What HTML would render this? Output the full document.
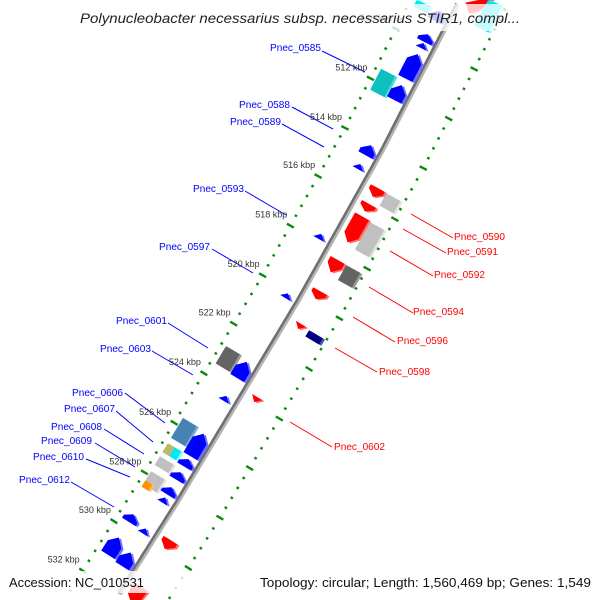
<!DOCTYPE html>
<html><head><meta charset="utf-8"><style>
html,body{margin:0;padding:0;background:#fff;width:600px;height:600px;overflow:hidden;}
svg{display:block;font-family:"Liberation Sans",sans-serif;overflow:hidden;}
</style></head><body>
<svg id="map" width="600" height="600" viewBox="0 0 600 600" xmlns="http://www.w3.org/2000/svg">
<g id="rings"></g>
<g id="backbone"></g>
<g id="features"></g>
<g id="labels"></g>
<g id="ticklabels"></g>
<rect x="0" y="4" width="600" height="27" fill="#fff" fill-opacity="0.78"/>
<text x="300" y="23" text-anchor="middle" font-style="italic" font-size="13.5" fill="#222" textLength="440" lengthAdjust="spacingAndGlyphs">Polynucleobacter necessarius subsp. necessarius STIR1, compl...</text>
<rect x="0" y="571" width="600" height="22" fill="#fff" fill-opacity="0.8"/>
<text x="9" y="587" font-size="12.5" fill="#111" textLength="135" lengthAdjust="spacingAndGlyphs">Accession: NC_010531</text>
<text x="260" y="587" font-size="12.5" fill="#111" textLength="331" lengthAdjust="spacingAndGlyphs">Topology: circular; Length: 1,560,469 bp; Genes: 1,549</text>
</svg>
<script>
// ---- data ----
const tickKbp = [510,512,514,516,518,520,522,524,526,528,530,532];
const tickLabels = ["510 kbp","512 kbp","514 kbp","516 kbp","518 kbp","520 kbp","522 kbp","524 kbp","526 kbp","528 kbp","530 kbp","532 kbp"];
const featStart = [508.7,508.7,509.65,510.0,510.45,511.52,511.7,514.14,514.9,517.72,520.12,522.8,522.9,524.27,525.7,525.8,526.72,526.72,527.25,526.82,527.35,527.85,528.25,527.96,528.38,529.45,529.63,530.38,530.6,
 507.0,507.5,515.34,515.35,515.98,516.48,516.52,518.24,518.25,519.5,520.81,520.85,523.76,529.52,531.4];
const featEnd = [509.1,509.0,509.95,510.2,511.43,512.37,512.3,514.54,515.1,517.92,520.32,523.5,523.55,524.47,526.5,526.7,527.08,527.08,527.6,527.12,527.65,528.4,528.5,528.26,528.58,529.75,529.83,531.08,531.15,
 508.3,508.6,515.7,515.85,516.28,517.53,517.62,518.74,518.85,519.82,521.01,521.1,523.96,529.88,532.1];
const featRow = ["LI","LO","LI","LI","LI","LO","LI","LI","LI","LI","LI","LO","LI","LI","LO","LI","LOa","LOb","LO","LI","LI","LO","LOa","LI","LI","LO","LI","LO","LI",
 "RI","RO","RI","RO","RI","RI","RO","RI","RO","RI","RI","RO","RI","RI","RI"];
const featColor = ["blue","cyan","blue","blue","blue","teal","blue","blue","blue","blue","blue","dgray","blue","blue","steel","blue","khaki","cyan","lgray","blue","blue","lgray","orange","blue","blue","blue","blue","blue","blue",
 "red","cyan","red","lgray","red","red","lgray","red","dgray","red","red","navy","red","red","red"];
const featType = ["arrowL","box","arrowL","triL","arrowL","box","arrowL","arrowL","triL","triL","triL","box","arrowL","triL","box","arrowL","box","box","box","arrowL","arrowL","box","box","arrowL","triL","arrowL","triL","arrowL","arrowL",
 "arrowR","box","arrowR","box","arrowR","arrowR","box","arrowR","box","arrowR","triR","box","triR","arrowR","arrowR"];

// ---- geometry ----
const NS="http://www.w3.org/2000/svg";
const bys=[0,150,300,500,600], bxs=[459,382,298,178,115];
function slope(y){let i=0;while(i<bys.length-2&&y>bys[i+1])i++;return (bxs[i+1]-bxs[i])/(bys[i+1]-bys[i]);}
function bx(y){let i=0;while(i<bys.length-2&&y>bys[i+1])i++;return bxs[i]+(y-bys[i])*slope(y);}
function ky(k){return 98+(k-512)*24.78;}
function pt(k,off){const y0=ky(k),x0=bx(y0),s=slope(y0),n=Math.sqrt(1+s*s);return [x0+off/n,y0-s*off/n];}
const rowOff={LI:[-20,-4],LO:[-38,-22],LOa:[-38,-30],LOb:[-30,-22],RI:[7,23],RO:[25,41]};
const colors={blue:["#0000ff","#7070ff"],cyan:["#00e8f0","#90ffff"],teal:["#10c0c0","#50e0e0"],dgray:["#646464","#9a9a9a"],lgray:["#c0c0c0","#e4e4e4"],steel:["#4682b4","#7aa8d0"],khaki:["#bdb76b","#ddd8a0"],orange:["#ff9000","#ffc060"],red:["#ff0000","#ff7070"],navy:["#000080","#5050b0"]};
function el(t,a,p){const e=document.createElementNS(NS,t);for(const k in a)e.setAttribute(k,a[k]);p.appendChild(e);return e;}

// rings
const rings=document.getElementById('rings');
[-43,45].forEach(off=>{
  for(let i=0;i<=70;i++){const k=505.2+i*0.4;const major=Math.abs(k/2-Math.round(k/2))<0.01;
    const len=major?4:1.3;const a=pt(k,off-len),b=pt(k,off+len);
    if(Math.min(a[1],b[1])<0||Math.max(a[1],b[1])>599)continue;
    const l=el('line',{x1:a[0].toFixed(1),y1:a[1].toFixed(1),x2:b[0].toFixed(1),y2:b[1].toFixed(1),stroke:'#0a8a0a','stroke-width':2.4},rings);
    
    }
});
// backbone
const bb=document.getElementById('backbone');
function bbPath(off){let d='';for(let k=508;k<=532.2;k+=0.2){const p=pt(k,off);if(p[1]<0||p[1]>599)continue;d+=(d?'L':'M')+p[0].toFixed(1)+','+p[1].toFixed(1);}return d;}
el('path',{d:bbPath(1.5),stroke:'#b4b4b4','stroke-width':3,fill:'none'},bb);
el('path',{d:bbPath(-0.8),stroke:'#707070','stroke-width':2.6,fill:'none'},bb);
// features
const fg=document.getElementById('features');
function shape(i){const k1=featStart[i],k2=featEnd[i],o=rowOff[featRow[i]],t=featType[i];const m=(o[0]+o[1])/2;let P;
  const len=k2-k1,h=Math.min(0.28,len*0.6);
  if(t==='box')P=[[k1,o[0]],[k2,o[0]],[k2,o[1]],[k1,o[1]]];
  else if(t==='arrowL')P=[[k1,m],[k1+h,o[0]],[k2,o[0]],[k2,o[1]],[k1+h,o[1]]];
  else if(t==='arrowR')P=[[k2,m],[k2-h,o[0]],[k1,o[0]],[k1,o[1]],[k2-h,o[1]]];
  else if(t==='triL')P=[[k1,m],[k2,o[0]+2],[k2,o[1]-2]];
  else P=[[k2,m],[k1,o[0]+2],[k1,o[1]-2]];
  return P.map(q=>pt(q[0],q[1]));}
for(let i=0;i<featStart.length;i++){
  const P=shape(i),c=colors[featColor[i]];
  const g=el('g',{},fg);
  
  
  el('polygon',{points:P.map(p=>(p[0]+2.2).toFixed(1)+','+Math.max(0,Math.min(600,p[1]+1.2)).toFixed(1)).join(' '),fill:c[1]},g);
  el('polygon',{points:P.map(p=>p[0].toFixed(1)+','+Math.max(0,Math.min(600,p[1])).toFixed(1)).join(' '),fill:c[0]},g);
}
// kbp labels
const tl=document.getElementById('ticklabels');
tickKbp.forEach((k,i)=>{const p=pt(k,-43);const t=el('text',{x:(p[0]-3).toFixed(1),y:(p[1]-8).toFixed(1),'text-anchor':'end','font-size':9,fill:'#333'},tl);
  t.textContent=tickLabels[i];
  
  });
// feature labels: [name, text x, text y(center), line x1,y1,x2,y2, side]
const labs=[
["Pnec_0585",321,47,322,51,365,72,"L"],["Pnec_0588",290,104,292,107,333,129,"L"],["Pnec_0589",281,121,282,124,324,147,"L"],
["Pnec_0593",244,188,245,191,286,215,"L"],["Pnec_0597",210,246,212,249,253,273,"L"],["Pnec_0601",167,320,168,323,208,348,"L"],
["Pnec_0603",151,348,152,351,193,375,"L"],["Pnec_0606",123,392,125,393,165,423,"L"],["Pnec_0607",115,408,116,411,153,442,"L"],
["Pnec_0608",102,426,104,429,144,454,"L"],["Pnec_0609",92,440,95,443,135,467,"L"],["Pnec_0610",84,456,86,459,130,477,"L"],
["Pnec_0612",70,479,71,482,114,507,"L"],
["Pnec_0590",454,236,411,214,453,238,"R"],["Pnec_0591",447,251,403,229,446,253,"R"],["Pnec_0592",434,274,390,251,433,276,"R"],
["Pnec_0594",413,311,369,287,413,313,"R"],["Pnec_0596",397,340,353,317,395,342,"R"],["Pnec_0598",379,371,335,348,377,372,"R"],
["Pnec_0602",334,446,290,422,332,447,"R"]];
const lg=document.getElementById('labels');
labs.forEach(L=>{const col=L[7]==='L'?'#0000ff':'#ff0000';
  const ln=el('line',{x1:L[3],y1:L[4],x2:L[5],y2:L[6],stroke:col,'stroke-width':1},lg);
  
  
  const t=el('text',{x:L[1],y:L[2]+3.8,'text-anchor':L[7]==='L'?'end':'start','font-size':10.5,fill:col,textLength:51,lengthAdjust:'spacingAndGlyphs'},lg);
  t.textContent=L[0];
  
  });
</script>
</body></html>
